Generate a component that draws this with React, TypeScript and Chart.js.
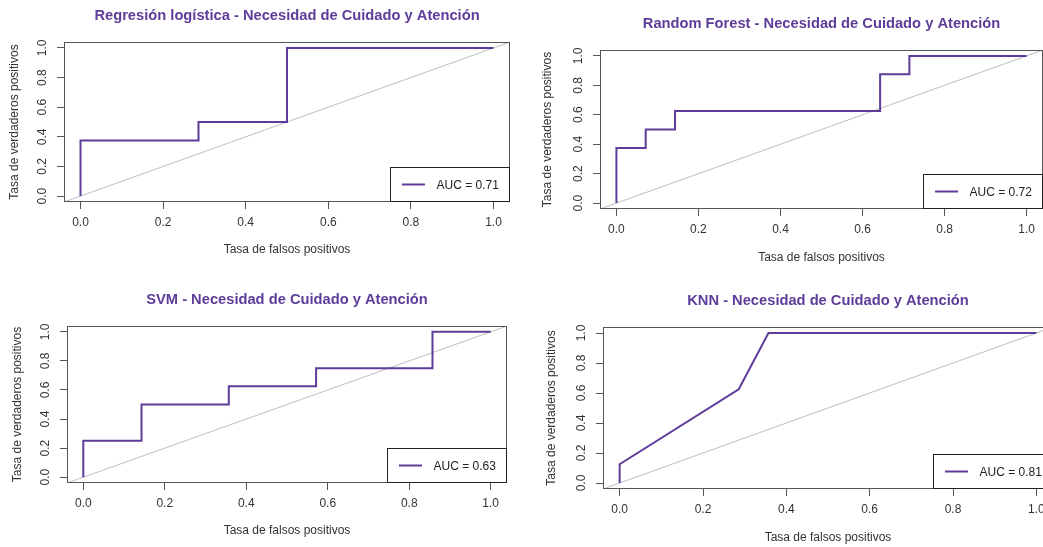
import React, { useEffect, useRef } from 'react';
import { Chart, registerables } from 'chart.js';

Chart.register(...registerables);

// ---------- data ----------
const titles = [
  'Regresión logística - Necesidad de Cuidado y Atención',
  'Random Forest - Necesidad de Cuidado y Atención',
  'SVM - Necesidad de Cuidado y Atención',
  'KNN - Necesidad de Cuidado y Atención',
];
const lrFpr = [0, 0, 0.2857, 0.2857, 0.5, 0.5, 1];
const lrTpr = [0, 0.375, 0.375, 0.5, 0.5, 1, 1];
const rfFpr = [0, 0, 0.0714, 0.0714, 0.1429, 0.1429, 0.6429, 0.6429, 0.7143, 0.7143, 1];
const rfTpr = [0, 0.375, 0.375, 0.5, 0.5, 0.625, 0.625, 0.875, 0.875, 1, 1];
const svmFpr = [0, 0, 0.1429, 0.1429, 0.3571, 0.3571, 0.5714, 0.5714, 0.8571, 0.8571, 1];
const svmTpr = [0, 0.25, 0.25, 0.5, 0.5, 0.625, 0.625, 0.75, 0.75, 1, 1];
const knnFpr = [0, 0, 0.2857, 0.3571, 1];
const knnTpr = [0, 0.125, 0.625, 1, 1];
const aucValues = ['0.71', '0.72', '0.63', '0.81'];
const tickValues = [0, 0.2, 0.4, 0.6, 0.8, 1];
const tickLabels = ['0.0', '0.2', '0.4', '0.6', '0.8', '1.0'];
const axisMin = -0.04;
const axisMax = 1.04;
const xTitle = 'Tasa de falsos positivos';
const yTitle = 'Tasa de verdaderos positivos';

const fprs = [lrFpr, rfFpr, svmFpr, knnFpr];
const tprs = [lrTpr, rfTpr, svmTpr, knnTpr];

// ---------- layout / style ----------
const FONT = "'Liberation Sans', Arial, Helvetica, sans-serif";
const PURPLE = '#5E3C99';
const GRAY_DIAG = '#BEBEBE';
const FRAME = '#555555';
const TEXT = '#333333';
const TITLE_SIZE = 14.7;

const PANELS = [
  { cx: 0, cy: 0, cw: 530, ch: 273, L: 64, R: 510, T: 42, B: 202, titleY: 15.5, xTitleY: 250, yTitleX: 15 },
  { cx: 521, cy: 0, cw: 540, ch: 273, L: 600, R: 1043, T: 50, B: 209, titleY: 23.5, xTitleY: 257.5, yTitleX: 548 },
  { cx: 0, cy: 273, cw: 530, ch: 274, L: 67, R: 507, T: 326, B: 483, titleY: 299.5, xTitleY: 531, yTitleX: 17.5 },
  { cx: 521, cy: 273, cw: 550, ch: 274, L: 603, R: 1053, T: 327, B: 489, titleY: 300.5, xTitleY: 538, yTitleX: 552 },
];

const framePlugin = {
  id: 'rFrameLegend',
  afterDatasetsDraw(chart: any) {
    const { ctx, chartArea: a } = chart;
    ctx.save();
    // plot frame
    const x0 = Math.round(a.left) + 0.5;
    const y0 = Math.round(a.top) + 0.5;
    const x1 = Math.round(a.right) - 0.5;
    const y1 = Math.round(a.bottom) - 0.5;
    ctx.strokeStyle = FRAME;
    ctx.lineWidth = 1;
    ctx.strokeRect(x0, y0, x1 - x0, y1 - y0);
    // legend (bottom right)
    const ds = chart.data.datasets[0];
    const lw = 119;
    const lh = 34;
    const lx = x1 - lw;
    const ly = y1 - lh;
    ctx.fillStyle = '#ffffff';
    ctx.fillRect(lx, ly, lw, lh);
    ctx.strokeStyle = '#222222';
    ctx.strokeRect(lx, ly, lw, lh);
    const my = ly + lh / 2;
    ctx.strokeStyle = ds.borderColor;
    ctx.lineWidth = 2;
    ctx.beginPath();
    ctx.moveTo(lx + 11.5, my);
    ctx.lineTo(lx + 34.5, my);
    ctx.stroke();
    ctx.fillStyle = '#222222';
    ctx.font = `12px ${FONT}`;
    ctx.textAlign = 'left';
    ctx.textBaseline = 'middle';
    ctx.fillText(ds.label, lx + 46, my + 1);
    ctx.restore();
  },
};

function setTicks(scale: any) {
  scale.ticks = tickValues.map((v) => ({ value: v }));
}

function buildConfig(idx: number): any {
  const p = PANELS[idx];
  const roc = fprs[idx].map((x, i) => ({ x, y: tprs[idx][i] }));
  const diag = [
    { x: axisMin, y: axisMin },
    { x: axisMax, y: axisMax },
  ];
  const titleLH = TITLE_SIZE * 1.2;
  const titlePadTop = p.titleY - p.cy - titleLH / 2;
  const titlePadBottom = p.T - p.cy - titleLH - titlePadTop;
  const axLH = 12 * 1.2;
  const tickFont = { family: FONT, size: 12, lineHeight: 1.2 };
  const grid = {
    display: true,
    drawOnChartArea: false,
    drawTicks: true,
    tickLength: 7,
    color: FRAME,
    lineWidth: 1,
  };
  return {
    type: 'scatter',
    data: {
      datasets: [
        {
          label: `AUC = ${aucValues[idx]}`,
          data: roc,
          showLine: true,
          borderColor: PURPLE,
          backgroundColor: PURPLE,
          borderWidth: 2,
          pointRadius: 0,
          tension: 0,
        },
        {
          label: '',
          data: diag,
          showLine: true,
          borderColor: GRAY_DIAG,
          borderWidth: 1,
          pointRadius: 0,
          tension: 0,
        },
      ],
    },
    options: {
      animation: false,
      responsive: false,
      devicePixelRatio: 1,
      events: [],
      layout: { padding: { left: 0, top: 0, bottom: 0, right: p.cx + p.cw - p.R } },
      plugins: {
        legend: { display: false },
        tooltip: { enabled: false },
        title: {
          display: true,
          fullSize: false,
          text: titles[idx],
          color: PURPLE,
          font: { family: FONT, size: TITLE_SIZE, weight: 'bold', lineHeight: 1.2 },
          padding: { top: titlePadTop, bottom: titlePadBottom },
        },
      },
      scales: {
        x: {
          type: 'linear',
          position: 'bottom',
          min: axisMin,
          max: axisMax,
          afterBuildTicks: setTicks,
          afterFit: (s: any) => {
            s.height = p.cy + p.ch - p.B;
          },
          ticks: {
            autoSkip: false,
            maxRotation: 0,
            minRotation: 0,
            padding: 6,
            color: TEXT,
            font: tickFont,
            callback: (_v: any, i: number) => tickLabels[i],
          },
          grid,
          border: { display: false },
          title: {
            display: true,
            text: xTitle,
            color: TEXT,
            font: tickFont,
            padding: { top: 0, bottom: p.cy + p.ch - p.xTitleY - axLH / 2 },
          },
        },
        y: {
          type: 'linear',
          position: 'left',
          min: axisMin,
          max: axisMax,
          afterBuildTicks: setTicks,
          afterFit: (s: any) => {
            s.width = p.L - p.cx;
          },
          ticks: {
            autoSkip: false,
            minRotation: 90,
            maxRotation: 90,
            crossAlign: 'center',
            padding: 6,
            color: TEXT,
            font: tickFont,
            callback: (_v: any, i: number) => tickLabels[i],
          },
          grid,
          border: { display: false },
          title: {
            display: true,
            text: yTitle,
            color: TEXT,
            font: tickFont,
            padding: { top: p.yTitleX - p.cx - axLH / 2, bottom: 0 },
          },
        },
      },
    },
    plugins: [framePlugin],
  };
}

function RocPanel({ idx }: { idx: number }) {
  const ref = useRef<HTMLCanvasElement>(null);
  const p = PANELS[idx];
  useEffect(() => {
    if (!ref.current) return;
    const chart = new Chart(ref.current, buildConfig(idx));
    return () => chart.destroy();
  }, [idx]);
  return (
    <canvas
      ref={ref}
      width={p.cw}
      height={p.ch}
      style={{ position: 'absolute', left: p.cx, top: p.cy, width: p.cw, height: p.ch }}
    />
  );
}

export default function App() {
  return (
    <div
      style={{
        position: 'fixed',
        left: 0,
        top: 0,
        width: 1043,
        height: 547,
        overflow: 'hidden',
        background: '#ffffff',
      }}
    >
      {PANELS.map((_, i) => (
        <RocPanel key={i} idx={i} />
      ))}
    </div>
  );
}
